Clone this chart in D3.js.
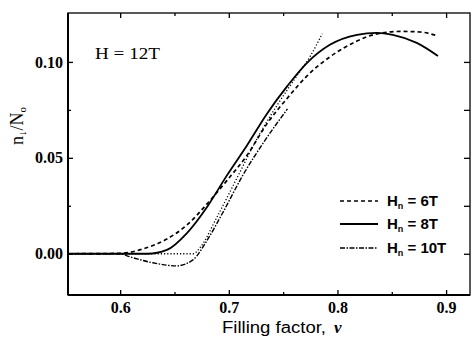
<!DOCTYPE html>
<html>
<head>
<meta charset="utf-8">
<script src="https://cdn.jsdelivr.net/npm/d3@7/dist/d3.min.js"></script>
<style>
  html, body { margin: 0; padding: 0; background: #fff; }
  svg { display: block; }
</style>
</head>
<body>
<svg id="chart" width="472" height="337"></svg>
<script>
// Filling-factor axis ticks
const xMajorTicks = [0.6, 0.7, 0.8, 0.9];
const xMinorTicks = [0.65, 0.75, 0.85];
const yMajorTicks = [0.00, 0.05, 0.10];
const yMinorTicks = [0.025, 0.075];

// n_down / N0 versus filling factor for each Hn
const nu6 = [0.552, 0.600, 0.621, 0.643, 0.6615, 0.680, 0.698, 0.717, 0.735, 0.754, 0.772, 0.793, 0.818, 0.836, 0.858, 0.876, 0.892];
const val6 = [0.000, 0.0002, 0.0025, 0.0077, 0.015, 0.026, 0.038, 0.0515, 0.0677, 0.0812, 0.0927, 0.1026, 0.1109, 0.1146, 0.1159, 0.1156, 0.1136];

const nu8 = [0.552, 0.600, 0.625, 0.643, 0.6615, 0.680, 0.698, 0.717, 0.735, 0.754, 0.772, 0.793, 0.818, 0.836, 0.851, 0.873, 0.8925];
const val8 = [0.000, 0.000, 0.000, 0.002, 0.0108, 0.0244, 0.0406, 0.0567, 0.0729, 0.0875, 0.0995, 0.1089, 0.1141, 0.1151, 0.1141, 0.1099, 0.1031];

const nu10 = [0.552, 0.600, 0.609, 0.630, 0.652, 0.667, 0.680, 0.695, 0.713, 0.732, 0.754];
const val10 = [0.000, 0.000, -0.0016, -0.0047, -0.0063, -0.0032, 0.0070, 0.022, 0.041, 0.058, 0.0755];

// unlabelled dotted curve
const nuDot = [0.552, 0.620, 0.667, 0.674, 0.689, 0.708, 0.726, 0.744, 0.763, 0.775, 0.786];
const valDot = [0.000, 0.000, 0.000, 0.0035, 0.019, 0.040, 0.060, 0.077, 0.093, 0.103, 0.1147];

const legendLabels = ["6T", "8T", "10T"];

const svg = d3.select("#chart");
const M = { left: 68, right: 470, top: 13, bottom: 295 };

const x = d3.scaleLinear().domain([0.552, 0.922]).range([M.left, M.right]);
const y = d3.scaleLinear().domain([-0.0215, 0.1255]).range([M.bottom, M.top]);

const serif = "'Liberation Serif', 'DejaVu Serif', serif";
const sans = "'Liberation Sans', Arial, sans-serif";

// frame
svg.append("rect")
  .attr("x", M.left).attr("y", M.top)
  .attr("width", M.right - M.left).attr("height", M.bottom - M.top)
  .attr("fill", "none").attr("stroke", "#000").attr("stroke-width", 1.3);
svg.append("line")
  .attr("x1", M.left).attr("x2", M.left).attr("y1", M.top).attr("y2", M.bottom)
  .attr("stroke", "#000").attr("stroke-width", 2);
svg.append("line")
  .attr("x1", M.left).attr("x2", M.right).attr("y1", M.bottom).attr("y2", M.bottom)
  .attr("stroke", "#000").attr("stroke-width", 2);

function styleAxis(g) {
  g.select(".domain").remove();
  g.selectAll(".tick line").attr("stroke", "#000").attr("stroke-width", 1.3);
}

// bottom axis, ticks inward
const gx = svg.append("g").attr("transform", `translate(0,${M.bottom})`)
  .call(d3.axisBottom(x).tickValues(xMajorTicks).tickSize(-5).tickPadding(7).tickFormat(d3.format(".1f")));
styleAxis(gx);
gx.selectAll("text").attr("font-family", serif).attr("font-size", 16).attr("font-weight", "bold").attr("fill", "#000");
svg.append("g").attr("transform", `translate(0,${M.bottom})`)
  .call(d3.axisBottom(x).tickValues(xMinorTicks).tickSize(-3).tickFormat(""))
  .call(styleAxis);

// top axis
svg.append("g").attr("transform", `translate(0,${M.top})`)
  .call(d3.axisTop(x).tickValues(xMajorTicks).tickSize(-5).tickFormat(""))
  .call(styleAxis);
svg.append("g").attr("transform", `translate(0,${M.top})`)
  .call(d3.axisTop(x).tickValues(xMinorTicks).tickSize(-3).tickFormat(""))
  .call(styleAxis);

// left axis
const gy = svg.append("g").attr("transform", `translate(${M.left},0)`)
  .call(d3.axisLeft(y).tickValues(yMajorTicks).tickSize(-5).tickPadding(5).tickFormat(d3.format(".2f")));
styleAxis(gy);
gy.selectAll("text").attr("font-family", serif).attr("font-size", 16).attr("font-weight", "bold").attr("fill", "#000");
svg.append("g").attr("transform", `translate(${M.left},0)`)
  .call(d3.axisLeft(y).tickValues(yMinorTicks).tickSize(-3).tickFormat(""))
  .call(styleAxis);

// right axis
svg.append("g").attr("transform", `translate(${M.right},0)`)
  .call(d3.axisRight(y).tickValues(yMajorTicks.concat(yMinorTicks)).tickSize(-6).tickFormat(""))
  .call(styleAxis);

// curves
const line = d3.line()
  .x(d => x(d[0])).y(d => y(d[1]))
  .curve(d3.curveMonotoneX);

const series = [
  { nu: nuDot, v: valDot, dash: "1.2,2", w: 1.3 },
  { nu: nu10, v: val10, dash: "5,1.5,1.5,1.5", w: 1.4 },
  { nu: nu6, v: val6, dash: "4,3", w: 1.7 },
  { nu: nu8, v: val8, dash: null, w: 1.8 }
];
series.forEach(s => {
  svg.append("path")
    .datum(d3.zip(s.nu, s.v))
    .attr("d", line)
    .attr("fill", "none")
    .attr("stroke", "#000")
    .attr("stroke-width", s.w)
    .attr("stroke-dasharray", s.dash);
});

// legend
const legendStyles = [
  { dash: "4,3", w: 1.6 },
  { dash: null, w: 1.8 },
  { dash: "5,1.5,1.5,1.5", w: 1.4 }
];
const legendY = [201, 224, 248];
legendLabels.forEach((lab, i) => {
  svg.append("line")
    .attr("x1", 340).attr("x2", 378)
    .attr("y1", legendY[i]).attr("y2", legendY[i])
    .attr("stroke", "#000").attr("stroke-width", legendStyles[i].w)
    .attr("stroke-dasharray", legendStyles[i].dash);
  const t = svg.append("text")
    .attr("x", 387).attr("y", legendY[i] + 5)
    .attr("font-family", sans).attr("font-size", 15).attr("font-weight", "bold");
  t.append("tspan").text("H");
  t.append("tspan").attr("font-size", 9).attr("dy", 3).text("n");
  t.append("tspan").attr("dy", -3).text(" = " + lab);
});

// field annotation
svg.append("text")
  .attr("x", 95).attr("y", 59)
  .attr("font-family", serif).attr("font-size", 17)
  .attr("textLength", 65).attr("lengthAdjust", "spacingAndGlyphs")
  .text("H = 12T");

// x axis title
const xt = svg.append("text")
  .attr("x", 222).attr("y", 333)
  .attr("font-family", sans).attr("font-size", 16);
xt.append("tspan").attr("textLength", 104).attr("lengthAdjust", "spacingAndGlyphs").text("Filling factor,");
xt.append("tspan").attr("dx", 8).attr("font-family", serif)
  .attr("font-style", "italic").attr("font-weight", "bold").attr("font-size", 17).text("ν");

// y axis title
const yt = svg.append("text")
  .attr("transform", "translate(23,126) rotate(-90)")
  .attr("text-anchor", "middle")
  .attr("font-family", serif).attr("font-size", 18);
yt.append("tspan").text("n");
yt.append("tspan").attr("font-size", 11).attr("dy", 3).text("↓");
yt.append("tspan").attr("dy", -3).text("/N");
yt.append("tspan").attr("font-size", 11).attr("dy", 3).text("o");
</script>
</body>
</html>
